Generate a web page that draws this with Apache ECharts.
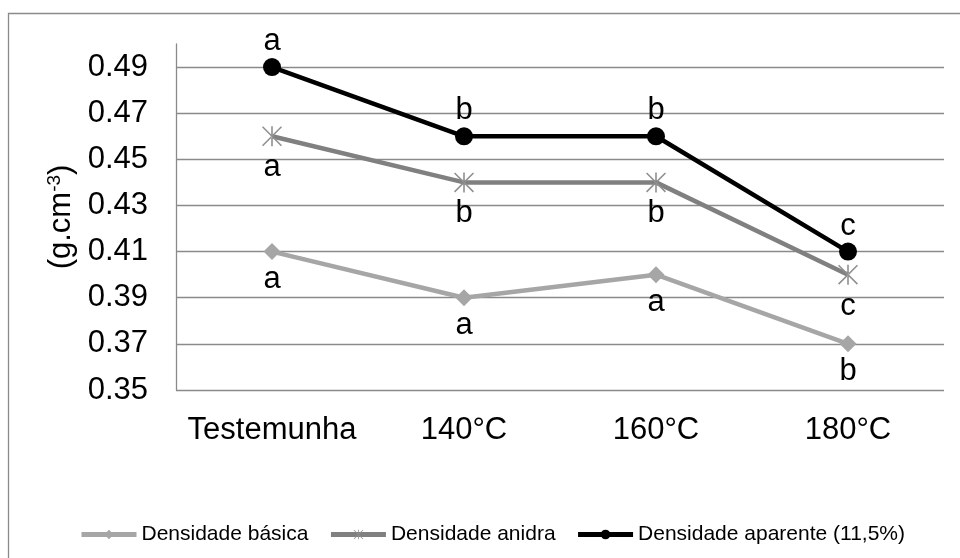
<!DOCTYPE html>
<html>
<head>
<meta charset="utf-8">
<script src="https://cdn.jsdelivr.net/npm/echarts@6/dist/echarts.min.js"></script>
<style>html,body{margin:0;padding:0;background:#fff;}#c{width:960px;height:558px;}</style>
</head>
<body>
<div id="c"></div>
<script>
var categories = ['Testemunha', '140°C', '160°C', '180°C'];
var basica = [0.41, 0.39, 0.40, 0.37];
var anidra = [0.46, 0.44, 0.44, 0.40];
var aparente = [0.49, 0.46, 0.46, 0.41];
var basicaLetters = ['a', 'a', 'a', 'b'];
var anidraLetters = ['a', 'b', 'b', 'c'];
var aparenteLetters = ['a', 'b', 'b', 'c'];
var seriesNames = ['Densidade básica', 'Densidade anidra', 'Densidade aparente (11,5%)'];
var yMin = 0.35, yMax = 0.50, yStep = 0.02;

var FONT = 'Liberation Sans, Arial, sans-serif';
var asterisk = 'path://M9.2 0 L10.8 0 L10.8 20 L9.2 20 Z M0 1.1 L1.1 0 L20 18.9 L18.9 20 Z M20 1.1 L18.9 0 L0 18.9 L1.1 20 Z';

function mk(letters) {
  return function (p) { return letters[p.dataIndex]; };
}

var chart = echarts.init(document.getElementById('c'), null, {renderer: 'canvas'});
chart.setOption({
  animation: false,
  backgroundColor: '#fff',
  graphic: [{
    type: 'rect', silent: true, z: -10,
    shape: {x: 8.5, y: 13.5, width: 1200, height: 1200},
    style: {fill: 'none', stroke: '#8a8a8a', lineWidth: 1.3}
  }],
  grid: {left: 176, right: 16, top: 44, bottom: 168, containLabel: false},
  legend: {
    left: 79, top: 524, padding: 0,
    itemWidth: 55, itemHeight: 12, itemGap: 20,
    lineStyle: {width: 5},
    textStyle: {fontFamily: FONT, fontSize: 21, color: '#000'},
    data: seriesNames
  },
  xAxis: {
    type: 'category', data: categories, boundaryGap: true,
    axisLine: {show: false},
    axisTick: {show: false},
    axisLabel: {fontFamily: FONT, fontSize: 31, color: '#000', margin: 25, interval: 0}
  },
  yAxis: {
    type: 'value', min: yMin, max: yMax, interval: yStep,
    name: '(g.cm{sup|-3})',
    nameLocation: 'middle', nameRotate: 90, nameGap: 96,
    nameTextStyle: {
      fontFamily: FONT, fontSize: 31, color: '#000',
      rich: {sup: {fontFamily: FONT, fontSize: 19, verticalAlign: 'top', padding: [0, 0, 12, 0], color: '#000'}}
    },
    axisLine: {show: true, lineStyle: {color: '#8a8a8a', width: 1.3}},
    axisTick: {show: false},
    axisLabel: {
      fontFamily: FONT, fontSize: 31, color: '#000', margin: 28,
      showMaxLabel: false,
      formatter: function (v) { return v.toFixed(2); }
    },
    splitLine: {show: true, showMaxLine: false, lineStyle: {color: '#8a8a8a', width: 1.3}}
  },
  series: [
    {
      name: seriesNames[0], type: 'line', data: basica,
      symbol: 'diamond', symbolSize: 17,
      lineStyle: {color: '#a6a6a6', width: 4.5},
      itemStyle: {color: '#a6a6a6'},
      label: {show: true, position: 'bottom', distance: 4, formatter: mk(basicaLetters),
        fontFamily: FONT, fontSize: 31, color: '#000'},
      z: 2
    },
    {
      name: seriesNames[1], type: 'line', data: anidra,
      symbol: asterisk, symbolSize: 20,
      lineStyle: {color: '#808080', width: 4.5},
      itemStyle: {color: '#8f8f8f'},
      label: {show: true, position: 'bottom', distance: 6, formatter: mk(anidraLetters),
        fontFamily: FONT, fontSize: 31, color: '#000'},
      z: 3
    },
    {
      name: seriesNames[2], type: 'line', data: aparente,
      symbol: 'circle', symbolSize: 18,
      lineStyle: {color: '#000', width: 4.5},
      itemStyle: {color: '#000'},
      label: {show: true, position: 'top', distance: 1, formatter: mk(aparenteLetters),
        fontFamily: FONT, fontSize: 31, color: '#000'},
      z: 4
    }
  ]
});
</script>
</body>
</html>
